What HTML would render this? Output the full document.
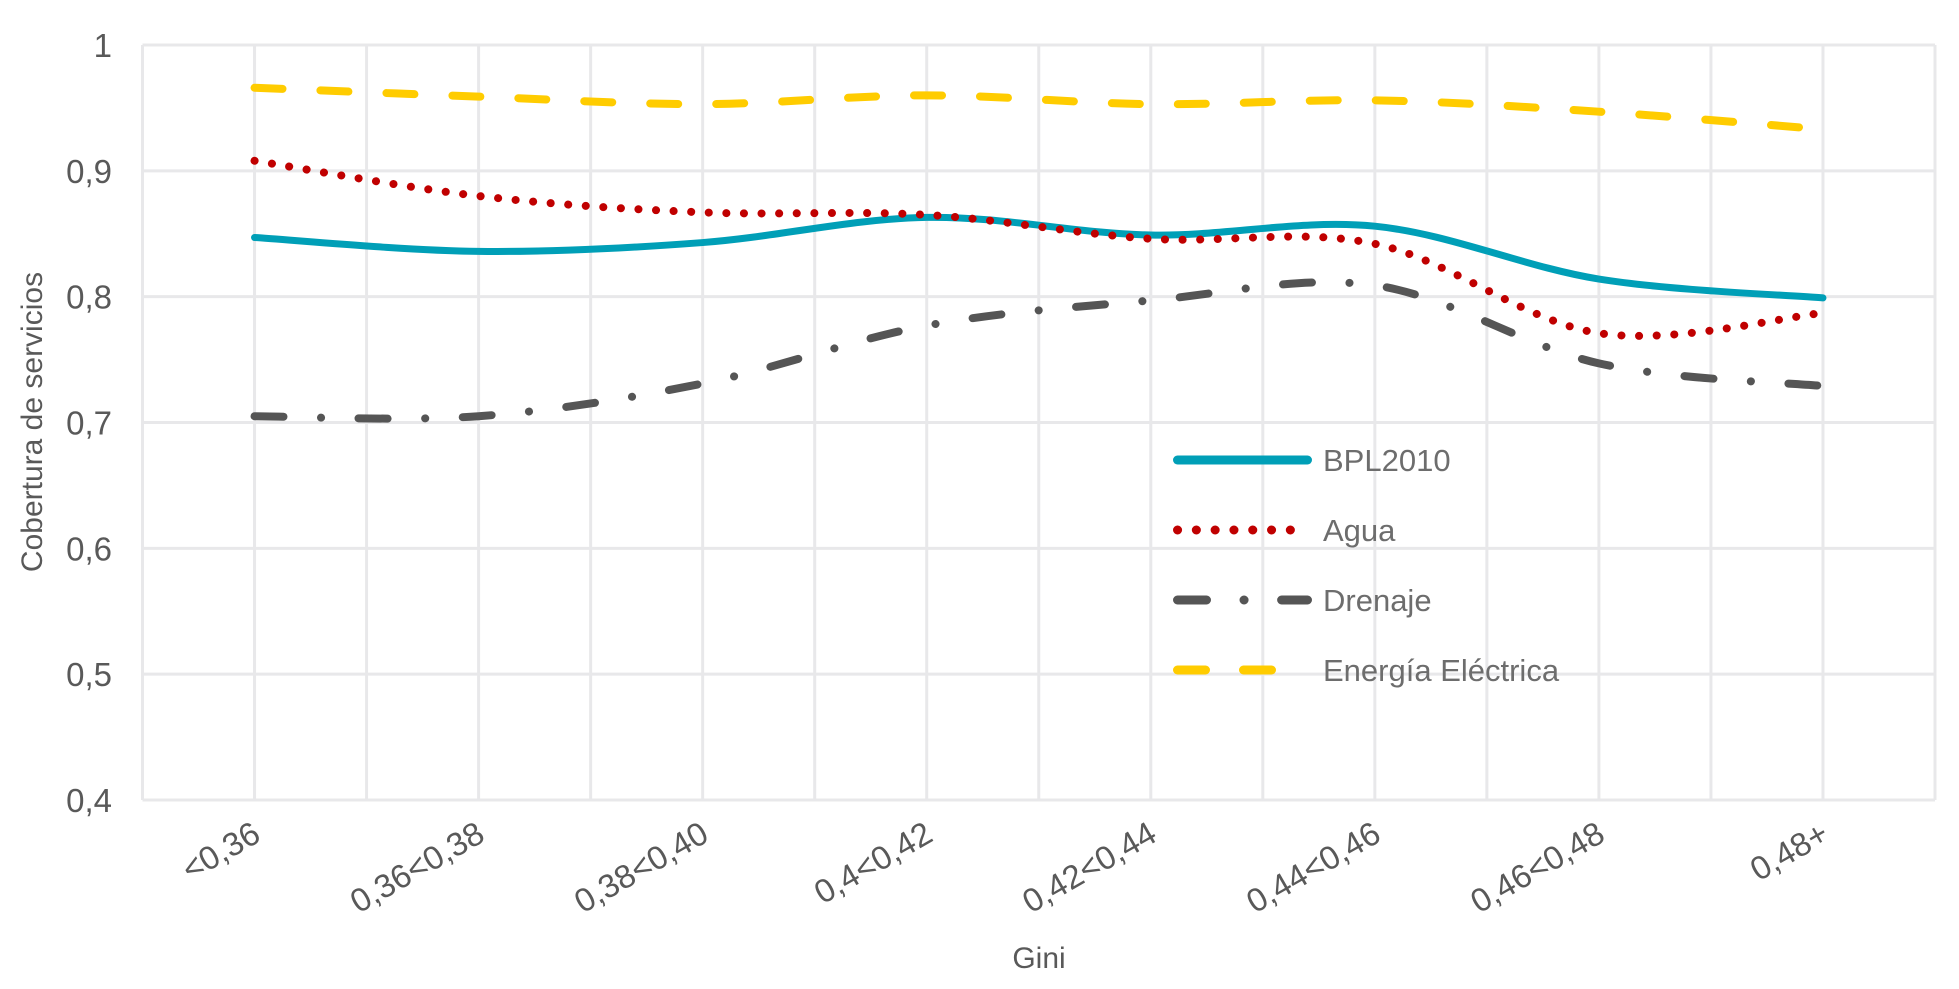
<!DOCTYPE html>
<html><head><meta charset="utf-8"><style>
body{margin:0;background:#fff}
svg{display:block;font-family:"Liberation Sans",sans-serif}
</style></head><body>
<svg id="chart" width="1959" height="989" xmlns="http://www.w3.org/2000/svg">
<g id="grid"></g>
<g id="series"></g>
<g id="axes"></g>
<text transform="translate(42,422) rotate(-90)" text-anchor="middle" font-size="30" fill="#595959">Cobertura de servicios</text>
<text x="1039" y="968" text-anchor="middle" font-size="30" fill="#595959">Gini</text>
<g id="legend"></g>
</svg>
<script>
const categories = ["<0,36","0,36<0,38","0,38<0,40","0,4<0,42","0,42<0,44","0,44<0,46","0,46<0,48","0,48+"];
const bpl = [0.847,0.836,0.843,0.863,0.849,0.856,0.814,0.799];
const agua = [0.908,0.880,0.867,0.865,0.846,0.842,0.771,0.787];
const drenaje = [0.705,0.705,0.731,0.777,0.797,0.809,0.747,0.729];
const energia = [0.966,0.959,0.953,0.960,0.953,0.956,0.947,0.933];
const yTicks = [0.4,0.5,0.6,0.7,0.8,0.9,1];
const yTickLabels = ["0,4","0,5","0,6","0,7","0,8","0,9","1"];
const seriesNames = ["BPL2010","Agua","Drenaje","Energía Eléctrica"];

const NS="http://www.w3.org/2000/svg";
const L=142.5,R=1935,T=45,B=800;
const x=i=>L+(i+0.5)*(R-L)/categories.length;
const y=v=>B-(v-0.4)/0.6*(B-T);
function mk(tag,attrs,parent){const e=document.createElementNS(NS,tag);for(const k in attrs)e.setAttribute(k,attrs[k]);parent.appendChild(e);return e;}
const grid=document.getElementById('grid');
yTicks.forEach((t,i)=>{
  const g=mk('line',{x1:L,x2:R,y1:y(t),y2:y(t),stroke:'#e8e8ea','stroke-width':3},grid);
  
  
  const tx=mk('text',{x:112,y:y(t)+12,'text-anchor':'end','font-size':33,fill:'#595959'},grid);
  tx.textContent=yTickLabels[i];
  
  
});
for(let k=0;k<=categories.length*2;k++){
  const xx=L+k*(R-L)/(categories.length*2);
  const g=mk('line',{x1:xx,x2:xx,y1:T,y2:B,stroke:'#e8e8ea','stroke-width':3},grid);
  
  
}
const axes=document.getElementById('axes');
categories.forEach((c,i)=>{
  const tx=mk('text',{transform:`translate(${x(i)+8},${B+40}) rotate(-30)`,'text-anchor':'end','font-size':33,fill:'#595959'},axes);
  tx.textContent=c;
  
  
});
function smooth(vals){
  const p=vals.map((v,i)=>[x(i),y(v)]);
  let d=`M${p[0][0]},${p[0][1]}`;
  for(let i=0;i<p.length-1;i++){
    const p0=p[i-1]||p[i],p1=p[i],p2=p[i+1],p3=p[i+2]||p[i+1];
    const c1=[p1[0]+(p2[0]-p0[0])/6,p1[1]+(p2[1]-p0[1])/6];
    const c2=[p2[0]-(p3[0]-p1[0])/6,p2[1]-(p3[1]-p1[1])/6];
    d+=` C${c1[0]},${c1[1]} ${c2[0]},${c2[1]} ${p2[0]},${p2[1]}`;
  }
  return d;
}
const styles=[
  {stroke:'#009fb7',dash:'none',w:7},
  {stroke:'#c00000',dash:'0.1 17.5',w:8},
  {stroke:'#555555',dash:'29 37.5 0.1 37.5',w:8},
  {stroke:'#ffcc00',dash:'28 38',w:8}
];
const data=[bpl,agua,drenaje,energia];
const sg=document.getElementById('series');
const leg=document.getElementById('legend');
data.forEach((vals,i)=>{
  const s=styles[i];
  const p=mk('path',{d:smooth(vals),fill:'none',stroke:s.stroke,'stroke-width':s.w,'stroke-linecap':'round','stroke-dasharray':s.dash},sg);
  
  
  const ly=460+i*70;
  const ll=mk('line',{x1:1177.5,x2:1307.5,y1:ly,y2:ly,stroke:s.stroke,'stroke-width':9,'stroke-linecap':'round','stroke-dasharray':i==1?'0.1 18.7':s.dash},leg);
  
  
  const lt=mk('text',{x:1323,y:ly+11,'font-size':31,fill:'#6d6d6d'},leg);
  lt.textContent=seriesNames[i];
  
  
});
</script>
</body></html>
